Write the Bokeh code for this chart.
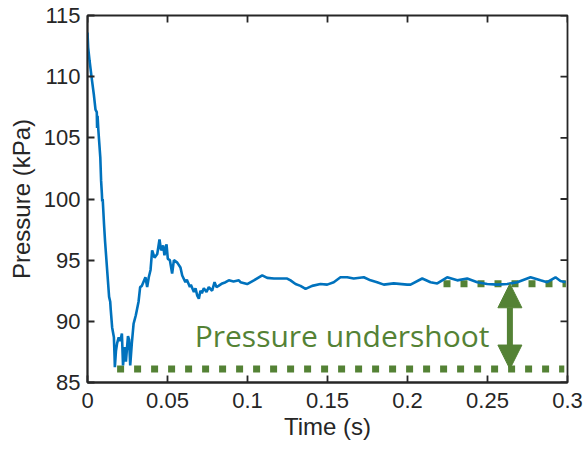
import math
from bokeh.plotting import figure
from bokeh.models import FixedTicker, Range1d, Arrow, NormalHead, Label
from bokeh.embed import file_html
from bokeh.resources import INLINE

# ---- data ----
time_s = [
    0.0000, 0.0004, 0.0013, 0.0025, 0.0040, 0.0050, 0.0058, 0.0060, 0.0063, 0.0068,
    0.0080, 0.0085, 0.0090, 0.0092, 0.0095, 0.0103, 0.0110, 0.0125, 0.0135, 0.0142,
    0.0145, 0.0154, 0.0165, 0.0169, 0.0171, 0.0178, 0.0185, 0.0195, 0.0205, 0.0215,
    0.0222, 0.0233, 0.0240, 0.0253, 0.0260, 0.0267, 0.0277, 0.0288, 0.0294, 0.0302,
    0.0319, 0.0329, 0.0340, 0.0362, 0.0373, 0.0383, 0.0394, 0.0404, 0.0419, 0.0436,
    0.0450, 0.0460, 0.0473, 0.0481, 0.0494, 0.0502, 0.0515, 0.0529, 0.0540, 0.0561,
    0.0581, 0.0592, 0.0612, 0.0621, 0.0640, 0.0646, 0.0665, 0.0675, 0.0686, 0.0696,
    0.0706, 0.0715, 0.0727, 0.0744, 0.0758, 0.0779, 0.0794, 0.0806, 0.0819, 0.0842,
    0.0863, 0.0883, 0.0913, 0.0946, 0.0956, 0.0998, 0.1040, 0.1092, 0.1123, 0.1165,
    0.1206, 0.1248, 0.1269, 0.1300, 0.1331, 0.1363, 0.1404, 0.1456, 0.1498, 0.1539,
    0.1581, 0.1623, 0.1664, 0.1727, 0.1769, 0.1810, 0.1852, 0.1914, 0.1998, 0.2019,
    0.2092, 0.2144, 0.2186, 0.2248, 0.2311, 0.2373, 0.2436, 0.2498, 0.2561, 0.2623,
    0.2686, 0.2769, 0.2831, 0.2873, 0.2925, 0.2956, 0.2988,
]
pressure_kpa = [
    113.6, 112.4, 111.3, 110.0, 108.5, 107.3, 107.1, 105.8, 106.8, 105.6,
    103.4, 101.5, 100.4, 99.8, 100.0, 98.0, 96.5, 93.8, 92.0, 91.6,
    91.0, 89.5, 88.7, 87.2, 86.25, 87.6, 88.2, 88.7, 88.4, 89.0,
    86.4, 87.9, 86.7, 88.8, 88.5, 86.4, 88.2, 89.8, 90.1, 90.5,
    91.6, 92.8, 92.9, 93.6, 92.8, 93.6, 94.2, 95.8, 95.2, 95.5,
    96.7, 95.8, 96.2, 95.4, 96.3, 95.1, 95.0, 93.9, 95.0, 94.8,
    94.4, 93.75, 93.2, 93.4, 92.8, 93.0, 92.4, 92.7, 92.1, 91.85,
    92.5, 92.3, 92.7, 92.4, 92.8, 92.5, 93.2, 92.8, 92.9, 93.1,
    93.2, 93.35, 93.25, 93.35, 93.2, 93.05, 93.35, 93.75, 93.55, 93.5,
    93.5, 93.5, 93.35, 93.05, 92.9, 92.65, 92.9, 93.05, 93.0, 93.2,
    93.6, 93.6, 93.5, 93.6, 93.35, 93.2, 93.0, 93.1, 93.0, 93.0,
    93.5, 93.2, 93.1, 93.6, 93.35, 93.5, 93.2, 93.05, 93.0, 93.05,
    93.2, 93.6, 93.35, 93.2, 93.6, 93.3, 93.2,
]

lower_level_t = [0.0185, 0.2980]
lower_level_p = [86.1, 86.1]
upper_level_t = [0.2225, 0.2990]
upper_level_p = [93.07, 93.07]
arrow_t = 0.264
arrow_p = [86.1, 93.07]
annotation_text = "Pressure undershoot"
annotation_pos = (0.0670, 88.85)

x_min, x_max = 0.0, 0.3
y_min, y_max = 85.0, 115.0
x_ticks = [0, 0.05, 0.1, 0.15, 0.2, 0.25, 0.3]
x_tick_labels = ["0", "0.05", "0.1", "0.15", "0.2", "0.25", "0.3"]
y_ticks = [85, 90, 95, 100, 105, 110, 115]
y_tick_labels = ["85", "90", "95", "100", "105", "110", "115"]

BLUE = "#0072BD"
GREEN = "#548235"
AX = "#262626"

p = figure(width=586, height=450, output_backend="svg", toolbar_location=None,
           x_range=Range1d(x_min, x_max), y_range=Range1d(y_min, y_max),
           min_border_left=87, min_border_right=19, min_border_top=15, min_border_bottom=68)
p.grid.visible = False
p.outline_line_color = AX
p.outline_line_width = 1.8
p.background_fill_color = "white"
p.border_fill_color = "white"

p.line(lower_level_t, lower_level_p, line_color=GREEN, line_width=7, line_dash="7 10")
p.line(upper_level_t, upper_level_p, line_color=GREEN, line_width=7, line_dash="7 10")
p.line(time_s, pressure_kpa, line_color=BLUE, line_width=2.6)

p.add_layout(Arrow(x_start=arrow_t, y_start=arrow_p[0], x_end=arrow_t, y_end=arrow_p[1],
                   line_color=GREEN, line_width=6,
                   start=NormalHead(size=24, fill_color=GREEN, line_color=GREEN),
                   end=NormalHead(size=24, fill_color=GREEN, line_color=GREEN)))

p.add_layout(Label(x=annotation_pos[0], y=annotation_pos[1], text=annotation_text,
                   text_color=GREEN, text_font="Open Sans", text_font_size="30px",
                   text_align="left", text_baseline="alphabetic"))

# mirrored inward ticks on top and right edges (clipped to the frame)
p.scatter(x_ticks, [y_max] * len(x_ticks), marker="dash", size=14, angle=math.pi / 2,
          line_color=AX, line_width=1.8)
p.scatter([x_max] * len(y_ticks), y_ticks, marker="dash", size=14,
          line_color=AX, line_width=1.8)

def style_axis(ax, ticks, labels):
    ax.ticker = FixedTicker(ticks=ticks)
    ax.major_label_overrides = {t: l for t, l in zip(ticks, labels)}
    ax.axis_line_color = AX
    ax.axis_line_width = 1.8
    ax.major_tick_line_color = AX
    ax.major_tick_line_width = 1.8
    ax.major_tick_in = 7
    ax.major_tick_out = 0
    ax.minor_tick_line_color = None
    ax.major_label_text_font = "Liberation Sans"
    ax.major_label_text_color = AX
    ax.major_label_text_font_size = "22px"
    ax.axis_label_text_font = "Liberation Sans"
    ax.axis_label_text_font_size = "24px"
    ax.axis_label_text_font_style = "normal"
    ax.axis_label_text_color = AX

xb = p.xaxis[0]
style_axis(xb, x_ticks, x_tick_labels)
xb.axis_label = "Time (s)"
xb.major_label_standoff = 10
xb.axis_label_standoff = 2

yl = p.yaxis[0]
style_axis(yl, y_ticks, y_tick_labels)
yl.axis_label = "Pressure (kPa)"
yl.major_label_standoff = 7
yl.axis_label_standoff = 6

open("out.html", "w").write(file_html(p, INLINE))
